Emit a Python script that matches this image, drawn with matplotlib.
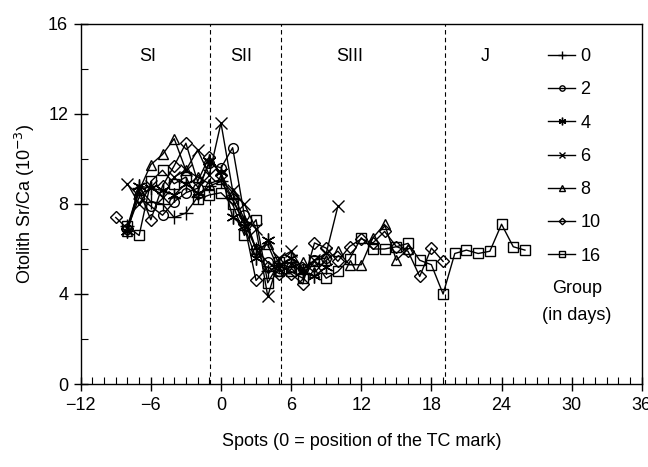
import matplotlib
matplotlib.use("Agg")
import matplotlib.pyplot as plt
from matplotlib.ticker import MultipleLocator

plt.rcParams['font.family'] = ['Liberation Sans', 'DejaVu Sans']

# spot positions and Sr/Ca values (x10^-3) per group (days)
spots_0 = [-8, -7, -6, -5, -4, -3, -2, -1, 0, 1, 2, 3, 4, 5, 6, 7]
srca_0 = [7.0, 8.7, 8.1, 8.0, 7.4, 7.6, 8.3, 8.8, 9.0, 8.2, 7.2, 6.0, 5.0, 5.3, 5.4, 4.9]

spots_2 = [-8, -7, -6, -5, -4, -3, -2, -1, 0, 1, 2, 3, 4, 5, 6, 7, 8, 9]
srca_2 = [6.9, 8.3, 7.9, 7.5, 8.1, 8.5, 8.7, 9.8, 9.6, 10.5, 7.5, 6.0, 5.4, 5.0, 5.2, 5.1, 5.5, 5.6]

spots_4 = [-8, -7, -6, -5, -4, -3, -2, -1, 0, 1, 2, 3, 4, 5, 6, 7, 8, 9]
srca_4 = [6.8, 8.8, 8.7, 8.6, 8.4, 8.9, 8.5, 9.9, 9.4, 7.4, 7.0, 5.6, 6.4, 5.3, 5.6, 5.0, 4.8, 5.2]

spots_6 = [-8, -7, -6, -5, -4, -3, -2, -1, 0, 1, 2, 3, 4, 5, 6, 7, 8, 9, 10]
srca_6 = [8.9, 8.0, 8.8, 8.3, 9.2, 9.5, 10.4, 9.3, 11.6, 8.6, 8.0, 6.9, 3.9, 5.6, 5.9, 5.1, 5.5, 5.8, 7.9]

spots_8 = [-8, -7, -6, -5, -4, -3, -2, -1, 0, 1, 2, 3, 4, 5, 6, 7, 8, 9, 10, 11, 12, 13, 14, 15, 16]
srca_8 = [6.8, 8.6, 9.75, 10.2, 10.9, 9.5, 9.2, 8.9, 9.1, 8.5, 7.3, 6.0, 6.2, 5.0, 5.2, 5.4, 4.96, 5.5,
          5.9, 5.3, 5.3, 6.5, 7.1, 5.5, 6.0]

spots_10 = [-9, -8, -7, -6, -5, -4, -3, -2, -1, 0, 1, 2, 3, 4, 5, 6, 7, 8, 9, 10, 11, 12, 13, 14, 15,
            16, 17, 18, 19]
srca_10 = [7.4, 6.9, 8.6, 7.3, 8.8, 9.7, 10.7, 9.0, 10.1, 9.3, 8.2, 7.1, 4.6, 5.2, 4.9, 4.9, 4.45, 6.27,
           6.04, 5.45, 6.11, 6.45, 6.27, 6.78, 6.11, 5.9, 4.78, 6.04, 5.45]

spots_16 = [-8, -7, -6, -5, -4, -3, -2, -1, 0, 1, 2, 3, 4, 5, 6, 7, 8, 9, 10, 11, 12, 13, 14, 15, 16,
            17, 18, 19, 20, 21, 22, 23, 24, 25, 26]
srca_16 = [7.0, 6.6, 9.0, 9.5, 8.9, 9.2, 8.2, 8.4, 8.5, 8.0, 6.6, 7.3, 4.5, 5.4, 5.0, 4.7, 5.45, 4.7,
           5.0, 5.55, 6.5, 6.0, 6.0, 6.1, 6.25, 5.5, 5.3, 4.0, 5.8, 5.95, 5.8, 5.9, 7.1, 6.1, 5.95]

group_labels = ['0', '2', '4', '6', '8', '10', '16']
boundaries = [-0.9, 5.1, 19.2]
stage_labels = ['SI', 'SII', 'SIII', 'J']
stage_x = [-6.3, 1.7, 11.0, 22.6]

series = [(spots_0, srca_0, '+', 10), (spots_2, srca_2, 'o', 7), (spots_4, srca_4, (6, 2, 0), 10),
          (spots_6, srca_6, 'x', 8.5), (spots_8, srca_8, '^', 7.5), (spots_10, srca_10, 'D', 6),
          (spots_16, srca_16, 's', 7)]

fig = plt.figure(figsize=(6.48, 4.67), dpi=100)
ax = fig.add_axes([0.1245, 0.1777, 0.866, 0.771])

handles = []
for (xs, ys, mk, ms), lab in zip(series, group_labels):
    h, = ax.plot(xs, ys, color='black', lw=1.0, marker=mk, ms=ms, mfc='none', mec='black', mew=1.0,
                 label=lab)
    handles.append(h)

for b in boundaries:
    ax.axvline(b, color='black', lw=0.8, ls=(0, (4, 3)))

for s, xpos in zip(stage_labels, stage_x):
    ax.text(xpos, 14.55, s, ha='center', va='center', fontsize=13)

ax.set_xlim(-12, 36)
ax.set_ylim(0, 16)
ax.xaxis.set_major_locator(MultipleLocator(6))
ax.xaxis.set_minor_locator(MultipleLocator(1))
ax.yaxis.set_major_locator(MultipleLocator(4))
ax.yaxis.set_minor_locator(MultipleLocator(2))
ax.tick_params(which='major', direction='inout', length=10, width=1, labelsize=13, pad=4)
ax.tick_params(which='minor', direction='in', length=5, width=0.8)
for sp in ax.spines.values():
    sp.set_linewidth(1)

ax.set_xlabel('Spots (0 = position of the TC mark)', fontsize=13, labelpad=14)
ax.set_ylabel('Otolith Sr/Ca (10$^{\u22123}$)', fontsize=13, labelpad=8)

ax.legend(handles=handles, loc='upper left', bbox_to_anchor=(0.82, 0.953), frameon=False,
          fontsize=13, markerscale=0.55, handlelength=1.5, handletextpad=0.3, labelspacing=0.9,
          borderaxespad=0)
ax.text(0.884, 0.228, 'Group\n(in days)', transform=ax.transAxes, ha='center', va='center',
        fontsize=13, linespacing=1.75)

fig.savefig('out.png', dpi=100)
